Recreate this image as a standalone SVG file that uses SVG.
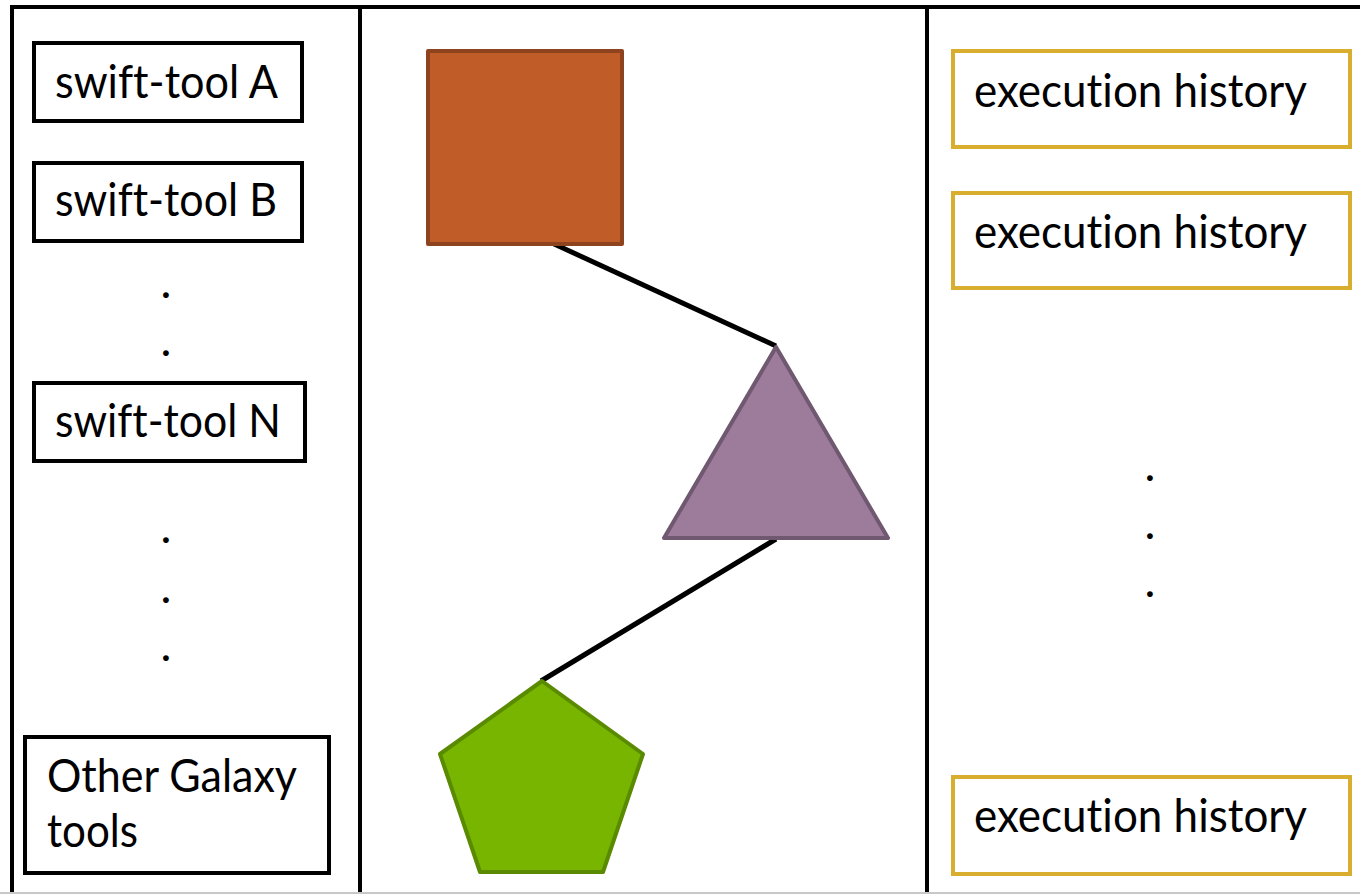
<svg xmlns="http://www.w3.org/2000/svg" width="1360" height="895" viewBox="0 0 1360 895">
<style>
.txt{font-family:Lato,"Open Sans","Liberation Sans",sans-serif;font-size:46px;fill:#000;font-variant-ligatures:none}
.tool{fill:#fff;stroke:#000;stroke-width:4}
.hist{fill:#fff;stroke:#D9AD2E;stroke-width:4}
.frame{stroke:#000;stroke-width:4;fill:none}
.conn{stroke:#000;stroke-width:5;fill:none}
.dot{font-family:Lato,"Open Sans","Liberation Sans",sans-serif;font-size:46px;fill:#000;text-anchor:middle}
</style>
<rect x="0" y="0" width="1360" height="895" fill="#fff"/>
<g id="frame">
<line class="frame" x1="10" y1="7" x2="1360" y2="7"/>
<line class="frame" x1="12" y1="5" x2="12" y2="893"/>
<line class="frame" x1="360" y1="7" x2="360" y2="893"/>
<line class="frame" x1="927" y1="7" x2="927" y2="893"/>
<line x1="0" y1="893" x2="1360" y2="893" stroke="#c8c8c8" stroke-width="2"/>
</g>
<g id="connectors">
<line class="conn" x1="552" y1="243" x2="776" y2="346"/>
<line class="conn" x1="776" y1="539" x2="541" y2="681"/>
</g>
<g id="toolA"><rect class="tool" x="34" y="43" width="268" height="78"/><text class="txt" x="55" y="98" textLength="223" lengthAdjust="spacingAndGlyphs">swift-tool A</text></g>
<g id="toolB"><rect class="tool" x="34" y="163" width="268" height="78"/><text class="txt" x="55" y="216" textLength="222" lengthAdjust="spacingAndGlyphs">swift-tool B</text></g>
<g id="toolN"><rect class="tool" x="34" y="383" width="271" height="78"/><text class="txt" x="55" y="437" textLength="226" lengthAdjust="spacingAndGlyphs">swift-tool N</text></g>
<g id="otherTools"><rect class="tool" x="25" y="737" width="304" height="136"/><text class="txt" x="47" y="792" textLength="250" lengthAdjust="spacingAndGlyphs">Other Galaxy</text><text class="txt" x="47" y="847" textLength="91" lengthAdjust="spacingAndGlyphs">tools</text></g>
<g id="dotsLeft1"><text class="dot" x="166" y="298">.</text><text class="dot" x="166" y="356">.</text></g>
<g id="dotsLeft2"><text class="dot" x="166" y="543">.</text><text class="dot" x="166" y="603">.</text><text class="dot" x="166" y="661">.</text></g>
<g id="square"><rect x="428" y="51" width="194" height="193" fill="#C05C28" stroke="#8E431F" stroke-width="4" stroke-linejoin="round"/></g>
<g id="triangle"><polygon points="776,347 888,538 664,538" fill="#9C7B9B" stroke="#6F5870" stroke-width="4" stroke-linejoin="round"/></g>
<g id="pentagon"><polygon points="542,681 643,754 603,872 480,872 440,754" fill="#77B500" stroke="#5A8A00" stroke-width="4" stroke-linejoin="round"/></g>
<g id="hist1"><rect class="hist" x="953" y="51" width="397" height="96"/><text class="txt" x="974" y="107" textLength="333" lengthAdjust="spacingAndGlyphs">execution history</text></g>
<g id="hist2"><rect class="hist" x="953" y="193" width="397" height="95"/><text class="txt" x="974" y="248" textLength="333" lengthAdjust="spacingAndGlyphs">execution history</text></g>
<g id="dotsRight"><text class="dot" x="1150" y="481">.</text><text class="dot" x="1150" y="539">.</text><text class="dot" x="1150" y="597">.</text></g>
<g id="hist3"><rect class="hist" x="953" y="777" width="397" height="97"/><text class="txt" x="974" y="832" textLength="333" lengthAdjust="spacingAndGlyphs">execution history</text></g>
</svg>
